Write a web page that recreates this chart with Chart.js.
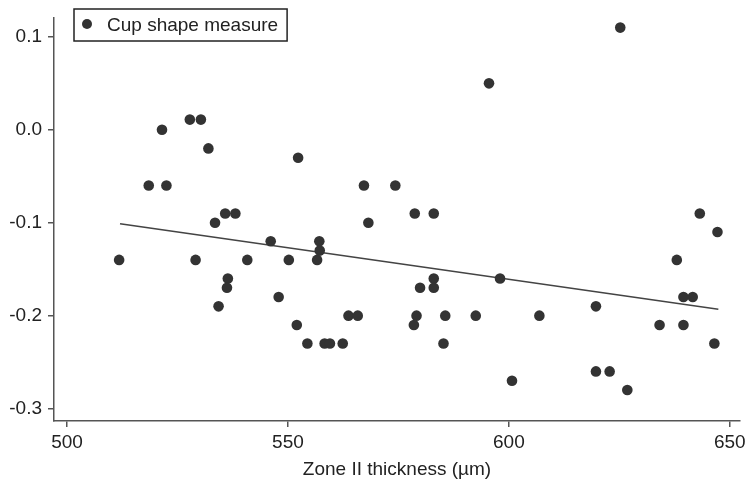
<!DOCTYPE html>
<html>
<head>
<meta charset="utf-8">
<script src="https://cdn.jsdelivr.net/npm/chart.js@4.4.0/dist/chart.umd.min.js"></script>
<style>
  body { margin: 0; background: #fff; }
  canvas { display: block; }
</style>
</head>
<body>
<canvas id="chart" width="753" height="486"></canvas>
<script>
// values
var thickness = [511.8, 518.5, 521.5, 522.5, 527.8, 530.3, 532.0, 529.1, 533.5, 535.8,
  538.1, 536.4, 536.2, 534.3, 540.8, 546.1, 547.9, 550.2, 552.0, 552.3,
  554.4, 557.1, 557.2, 556.6, 558.3, 559.5, 562.4, 563.7, 565.8, 567.2,
  568.2, 574.3, 578.7, 578.5, 579.1, 579.9, 583.0, 583.0, 583.0, 585.2,
  585.6, 592.5, 595.5, 598.0, 600.7, 606.9, 619.7, 619.7, 622.8, 625.2,
  626.8, 634.1, 638.0, 639.5, 641.6, 639.5, 643.2, 646.5, 647.2];
var cupShape = [-0.14, -0.06, 0.00, -0.06, 0.011, 0.011, -0.02, -0.14, -0.10, -0.09,
  -0.09, -0.16, -0.17, -0.19, -0.14, -0.12, -0.18, -0.14, -0.21, -0.03,
  -0.23, -0.12, -0.13, -0.14, -0.23, -0.23, -0.23, -0.20, -0.20, -0.06,
  -0.10, -0.06, -0.09, -0.21, -0.20, -0.17, -0.09, -0.16, -0.17, -0.23,
  -0.20, -0.20, 0.05, -0.16, -0.27, -0.20, -0.19, -0.26, -0.26, 0.11,
  -0.28, -0.21, -0.14, -0.18, -0.18, -0.21, -0.09, -0.23, -0.11];
// fitted line end points
var fitX = [512, 647.4];
var fitY = [-0.101, -0.193];
var xTicks = [500, 550, 600, 650];
var yTicks = [-0.3, -0.2, -0.1, 0.0, 0.1];

var dotColor = '#333';
var axisColor = '#555';
var font = { family: 'Liberation Sans, Arial, sans-serif', size: 19 };

var points = thickness.map(function(x, i) { return { x: x, y: cupShape[i] }; });
var fit = fitX.map(function(x, i) { return { x: x, y: fitY[i] }; });

// boxed legend inside the plot, like the original
var boxLegend = {
  id: 'boxLegend',
  afterDraw: function(chart) {
    var ctx = chart.ctx;
    var ds = chart.data.datasets[0];
    ctx.save();
    ctx.font = font.size + 'px ' + font.family;
    var w = ctx.measureText(ds.label).width;
    var left = 74, top = 9, h = 32;
    ctx.strokeStyle = '#222';
    ctx.lineWidth = 1.5;
    ctx.strokeRect(left, top, w + 42, h);
    ctx.fillStyle = dotColor;
    ctx.beginPath();
    ctx.arc(left + 13, top + h / 2 - 1, 5, 0, Math.PI * 2);
    ctx.fill();
    ctx.fillStyle = '#222';
    ctx.textBaseline = 'middle';
    ctx.fillText(ds.label, left + 33, top + h / 2 + 1);
    ctx.restore();
  }
};

new Chart(document.getElementById('chart').getContext('2d'), {
  type: 'scatter',
  data: {
    datasets: [{
      label: 'Cup shape measure',
      data: points,
      backgroundColor: dotColor,
      borderColor: dotColor,
      pointRadius: 5.3,
      pointBorderWidth: 0
    }, {
      label: 'fit',
      data: fit,
      showLine: true,
      borderColor: '#444',
      borderWidth: 1.5,
      pointRadius: 0
    }]
  },
  options: {
    responsive: false,
    animation: false,
    devicePixelRatio: 1,
    layout: { padding: { top: 13, right: 13, left: 0, bottom: 0 } },
    plugins: {
      legend: { display: false },
      tooltip: { enabled: false }
    },
    scales: {
      x: {
        type: 'linear',
        min: 497.06,
        max: 652.3,
        afterBuildTicks: function(scale) {
          scale.ticks = xTicks.map(function(v) { return { value: v }; });
        },
        afterFit: function(scale) { scale.height = 65; },
        grid: { drawOnChartArea: false, drawTicks: true, tickLength: 6, color: axisColor, lineWidth: 1.5 },
        border: { display: true, color: axisColor, width: 1.5 },
        ticks: { color: '#222', font: font, padding: 4, maxRotation: 0 },
        title: { display: true, text: 'Zone II thickness (µm)', color: '#222', font: font, padding: { top: 2, bottom: 5 } }
      },
      y: {
        min: -0.3134,
        max: 0.121,
        afterBuildTicks: function(scale) {
          scale.ticks = yTicks.map(function(v) { return { value: v }; });
        },
        afterFit: function(scale) { scale.width = 54; },
        grid: { drawOnChartArea: false, drawTicks: true, tickLength: 6, color: axisColor, lineWidth: 1.5 },
        border: { display: true, color: axisColor, width: 1.5 },
        ticks: {
          color: '#222', font: font, padding: 6,
          callback: function(v) { return v.toFixed(1); }
        }
      }
    }
  },
  plugins: [boxLegend]
});
</script>
</body>
</html>
